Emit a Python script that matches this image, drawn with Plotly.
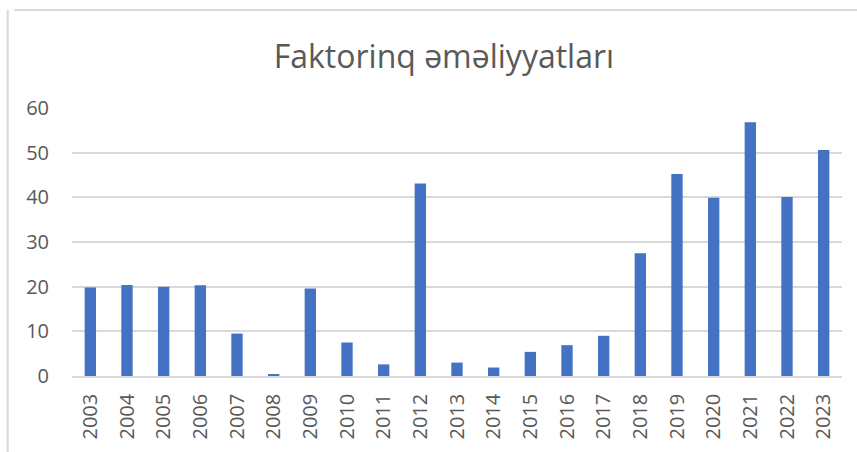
import plotly.graph_objects as go

years = [str(y) for y in range(2003, 2024)]
values = [19.8, 20.4, 20.0, 20.3, 9.5, 0.45, 19.6, 7.5, 2.6, 43.1,
          3.0, 1.9, 5.4, 6.9, 9.0, 27.5, 45.2, 39.9, 56.8, 40.1, 50.6]
y_ticks = [0, 10, 20, 30, 40, 50, 60]

title_text = "Faktorinq əməliyyatları"
bar_color = "#4472C4"
text_color = "#595959"
grid_color = "#D9D9D9"

fig = go.Figure(
    go.Bar(
        x=years,
        y=values,
        marker=dict(color=bar_color, line=dict(width=0)),
    )
)

fig.update_layout(
    width=857,
    height=452,
    margin=dict(l=72, r=15, t=108, b=76),
    paper_bgcolor="white",
    plot_bgcolor="white",
    bargap=0.69,
    showlegend=False,
    title=dict(
        text=title_text,
        x=0.518,
        xanchor="center",
        y=0.875,
        yanchor="middle",
        font=dict(family="Open Sans", size=32, color=text_color),
    ),
    font=dict(family="Open Sans", size=20, color=text_color),
    shapes=[
        dict(type="line", xref="paper", yref="paper", x0=-0.075, x1=1.02,
             y0=1.0 + 98 / 268, y1=1.0 + 98 / 268,
             line=dict(color=grid_color, width=2)),
        dict(type="line", xref="paper", yref="paper", x0=-0.0835, x1=-0.0835,
             y0=-0.3, y1=1.0 + 98 / 268,
             line=dict(color=grid_color, width=2)),
    ],
)

fig.update_xaxes(
    type="category",
    tickangle=-90,
    showgrid=False,
    showline=True,
    linecolor=grid_color,
    linewidth=1.5,
    ticks="",
    ticklabelstandoff=8,
    tickfont=dict(size=20, color=text_color),
)

fig.update_yaxes(
    range=[0, 60],
    tickvals=y_ticks,
    showgrid=True,
    gridcolor=grid_color,
    gridwidth=1.5,
    zeroline=False,
    showline=False,
    ticks="",
    ticklabelstandoff=22,
    tickfont=dict(size=20, color=text_color),
)

fig.write_html("out.html")
